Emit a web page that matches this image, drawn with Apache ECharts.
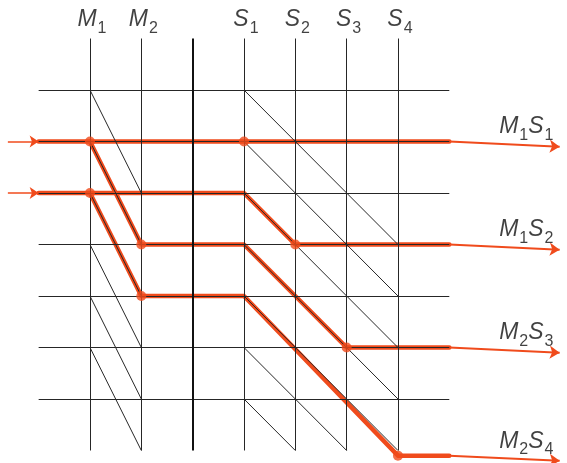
<!DOCTYPE html>
<html>
<head>
<meta charset="utf-8">
<script src="https://cdn.jsdelivr.net/npm/echarts@6/dist/echarts.min.js"></script>
<style>html,body{margin:0;padding:0;background:#fff}#c{width:567px;height:463px}</style>
</head>
<body>
<div id="c"></div>
<script>
// ---- data ----
const colLabels = ['M1', 'M2', '', 'S1', 'S2', 'S3', 'S4']; // column index 0..6
const rowIdx = [0, 1, 2, 3, 4, 5, 6];          // horizontal grid lines
const colIdx = [0, 1, 2, 3, 4, 5, 6];          // vertical grid lines
const gridLo = -1, gridHi = 7;                 // extent of grid lines
const thickCol = 2;                            // the heavier middle line
const mDiagRows = [0, 1, 2, 3, 4, 5];          // M1 row r -> M2 row r+2
const sDiagRows = [0, 1, 2, 3, 4, 5, 6];       // S1 row r -> one row per column to S4
const inputRows = [1, 2];
const inputStart = -1.6;
const pathM1S1 = [[-1, 1], [0, 1], [3, 1], [7, 1]];
const pathM2S3 = [[0, 1], [1, 3], [3, 3], [5, 5], [7, 5]];
const pathM1S2 = [[-1, 2], [0, 2], [3, 2], [4, 3], [7, 3]];
const pathM2S4 = [[0, 2], [1, 4], [3, 4], [6, 7.1], [7, 7.1]];
const nodes = [[0, 1], [0, 2], [1, 3], [1, 4], [3, 1], [4, 3], [5, 5], [6, 7.1]];
const outRows = [1, 3, 5, 7.1];
const outEnd = 9.15;
const outDrop = 0.1;
const outLabels = [['M', '1', 'S', '1'], ['M', '1', 'S', '2'], ['M', '2', 'S', '3'], ['M', '2', 'S', '4']];
const outLabelX = 8.5;

// ---- build ----
const RED = '#f04b1c';
const INK = '#262626';
const FONT = 'Liberation Sans';

const hLines = rowIdx.map(r => ({ coords: [[gridLo, r], [gridHi, r]] }));
const vLines = colIdx.filter(c => c !== thickCol).map(c => ({ coords: [[c, gridLo], [c, gridHi]] }));
const vThick = [{ coords: [[thickCol, gridLo], [thickCol, gridHi]] }];
const mDiag = mDiagRows.map(r => ({ coords: [[0, r], [1, r + 2]] }));
const sDiag = sDiagRows.map(r => {
  const k = Math.min(3, gridHi - r);
  return { coords: [[3, r], [3 + k, r + k]] };
});
const inArrows = inputRows.map(r => ({ coords: [[inputStart, r], [gridLo, r]] }));
const outArrows = outRows.map(r => ({ coords: [[gridHi, r], [outEnd, r + outDrop]] }));
const paths = [pathM1S1, pathM2S3, pathM1S2, pathM2S4].map(p => ({ coords: p }));

const rich = {
  v: { fontSize: 23, fontStyle: 'italic', fontFamily: FONT, color: '#111', lineHeight: 22, verticalAlign: 'top' },
  s: { fontSize: 16, fontStyle: 'normal', fontFamily: FONT, color: '#111', lineHeight: 16, padding: [12, 0, 0, 1], verticalAlign: 'top' }
};

const topLabelData = colIdx.filter(c => colLabels[c]).map(c => [c, gridLo, colLabels[c]]);
const outLabelData = outRows.map((r, i) => [outLabelX, r, outLabels[i]]);

const lineSeries = (data, width, color, z, extra) => Object.assign({
  type: 'lines', coordinateSystem: 'cartesian2d', data: data, z: z, silent: true,
  lineStyle: { color: color, width: width, opacity: 1, curveness: 0 }
}, extra || {});

const option = {
  animation: false,
  grid: { left: 0, right: 0, top: 0, bottom: 0 },
  xAxis: { type: 'value', min: -1.753, max: 9.293, show: false },
  yAxis: { type: 'value', min: -1.748, max: 7.243, inverse: true, show: false },
  series: [
    lineSeries(paths, 4.5, RED, 2, { polyline: true, lineStyle: { color: RED, width: 4.5, opacity: 1, cap: 'round', join: 'round' } }),
    lineSeries(hLines, 1, INK, 3),
    lineSeries(vLines, 1, INK, 3),
    lineSeries(vThick, 2, '#111', 3),
    lineSeries(mDiag, 1, INK, 3),
    lineSeries(sDiag, 1, INK, 3),
    lineSeries(inArrows, 1.5, RED, 2, { symbol: ['none', 'arrow'], symbolSize: 9 }),
    lineSeries(outArrows, 2, RED, 2, { symbol: ['none', 'arrow'], symbolSize: 10 }),
    {
      type: 'scatter', data: nodes, symbolSize: 10, z: 4, silent: true,
      itemStyle: { color: RED }
    },
    {
      type: 'scatter', data: topLabelData, symbolSize: 0, z: 5, silent: true,
      label: {
        show: true, position: 'top', distance: 8, offset: [2, 0],
        fontFamily: FONT, fontSize: 23,
        formatter: p => '{v|' + p.data[2][0] + '}{s|' + p.data[2][1] + '}',
        rich: rich
      }
    },
    {
      type: 'scatter', data: outLabelData, symbolSize: 0, z: 5, silent: true,
      label: {
        show: true, position: 'top', distance: 4,
        fontFamily: FONT, fontSize: 23,
        formatter: p => '{v|' + p.data[2][0] + '}{s|' + p.data[2][1] + '}{v|' + p.data[2][2] + '}{s|' + p.data[2][3] + '}',
        rich: rich
      }
    }
  ]
};

const chart = echarts.init(document.getElementById('c'), null, { renderer: 'canvas' });
chart.setOption(option);
</script>
</body>
</html>
